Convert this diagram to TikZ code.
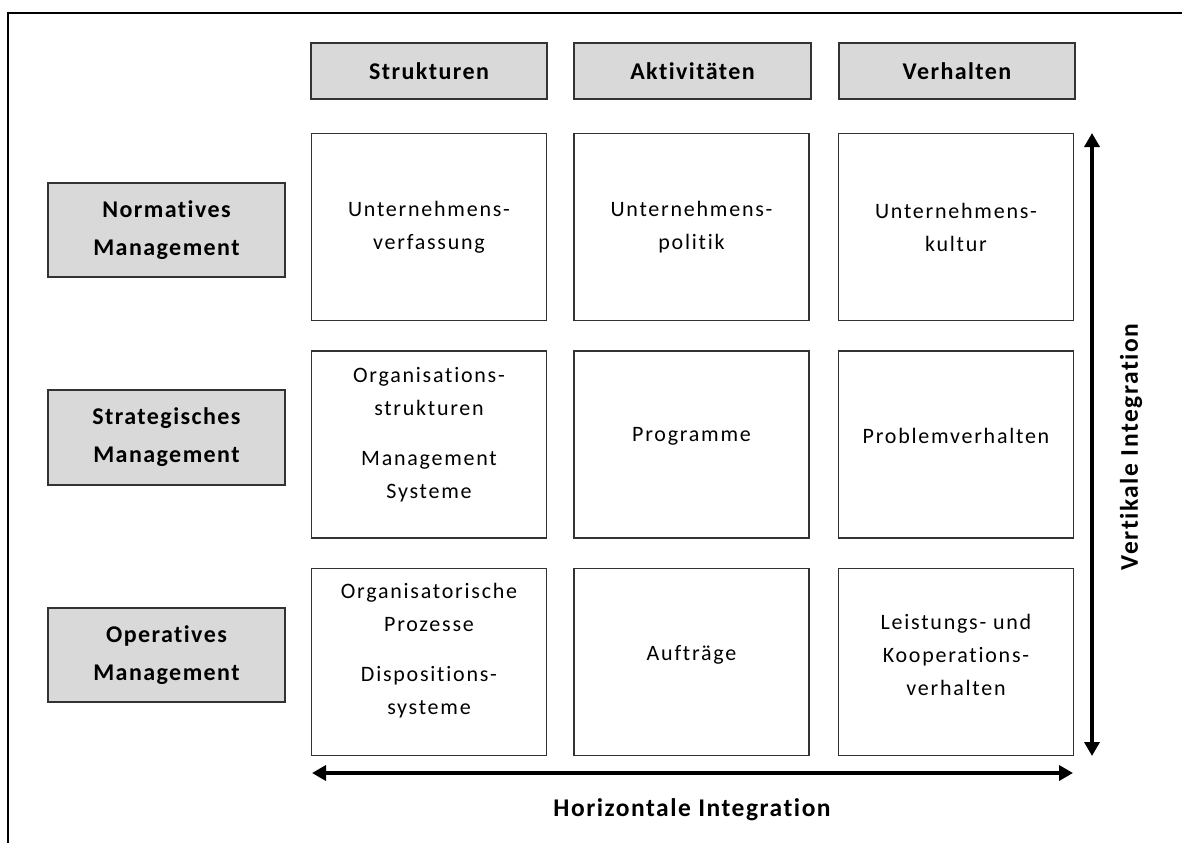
\documentclass[tikz,border=0pt]{standalone}
\usepackage{fontspec}
\setmainfont{Carlito}
\usetikzlibrary{arrows.meta}
\newfontfamily\bodyfont[LetterSpace=8,Ligatures=NoCommon]{Carlito}
\newfontfamily\headfont[LetterSpace=6,Ligatures=NoCommon]{Carlito}
\definecolor{hdrfill}{HTML}{D9D9D9}
\definecolor{edge}{HTML}{333333}
\tikzset{
  hdr/.style={draw=edge, line width=1.8pt, fill=hdrfill, inner sep=0pt, align=center,
    font=\headfont\bfseries\fontsize{24}{38}\selectfont},
  cell/.style={draw=edge, line width=1.8pt, inner sep=0pt, align=center,
    minimum width=235pt, minimum height=187pt,
    font=\bodyfont\fontsize{22}{33}\selectfont},
  celltext/.style={align=center, font=\bodyfont\fontsize{22}{33}\selectfont, inner sep=0pt},
  axis/.style={line width=4pt, {Triangle[width=15pt,length=14pt]}-{Triangle[width=15pt,length=14pt]}},
  axlabel/.style={font=\headfont\bfseries\fontsize{25.5}{28}\selectfont, inner sep=0pt},
}
\begin{document}
\begin{tikzpicture}[x=1pt,y=-1pt]
\useasboundingbox (0,0) rectangle (1182,843);
% frame (only top and left visible)
\draw[line width=1.5pt] (1182,13) -- (8,13) -- (8,843);
% column headers
\node[hdr, minimum width=236pt, minimum height=56pt] (hS) at (429,71) {Strukturen};
\node[hdr, minimum width=237pt, minimum height=56pt] (hA) at (692.5,71) {Aktivitäten};
\node[hdr, minimum width=236pt, minimum height=56pt] (hV) at (957,71) {Verhalten};
% row headers
\node[hdr, minimum width=237pt, minimum height=94pt] (rN) at (166.5,230) {Normatives\\Management};
\node[hdr, minimum width=237pt, minimum height=95pt] (rS) at (166.5,437.5) {Strategisches\\Management};
\node[hdr, minimum width=237pt, minimum height=94pt] (rO) at (166.5,655) {Operatives\\Management};
% cells row 1
\node[cell] (c11) at (429,227) {Unternehmens-\\verfassung};
\node[cell] (c12) at (691.5,227) {Unternehmens-\\politik};
\node[cell] (c13) at (956,227) {Unternehmens-\\kultur};
% cells row 2
\node[cell] (c21) at (429,444.5) {};
\node[celltext] (t21) at (429,435) {Organisations-\\strukturen\\[17pt]Management\\Systeme};
\node[cell] (c22) at (691.5,444.5) {};
\node[celltext] (t22) at (691.5,436) {Programme};
\node[cell] (c23) at (956,444.5) {};
\node[celltext] (t23) at (956,436) {Problemverhalten};
% cells row 3
\node[cell] (c31) at (429,662) {};
\node[celltext] (t31) at (429,651) {Organisatorische\\Prozesse\\[17pt]Dispositions-\\systeme};
\node[cell] (c32) at (691.5,662) {};
\node[celltext] (t32) at (691.5,655) {Aufträge};
\node[cell] (c33) at (956,662) {};
\node[celltext] (t33) at (956,655) {Leistungs- und\\Kooperations-\\verhalten};
% axes
\coordinate (hl) at (312,773);
\coordinate (hr) at (1073,773);
\coordinate (vt) at (1092,133);
\coordinate (vb) at (1092,756);
\draw[axis] (hl) -- (hr);
\draw[axis] (vt) -- (vb);
\node[axlabel] (hlab) at (692,810) {Horizontale Integration};
\node[axlabel, rotate=90] (vlab) at (1131,447) {Vertikale Integration};
\end{tikzpicture}
\end{document}
